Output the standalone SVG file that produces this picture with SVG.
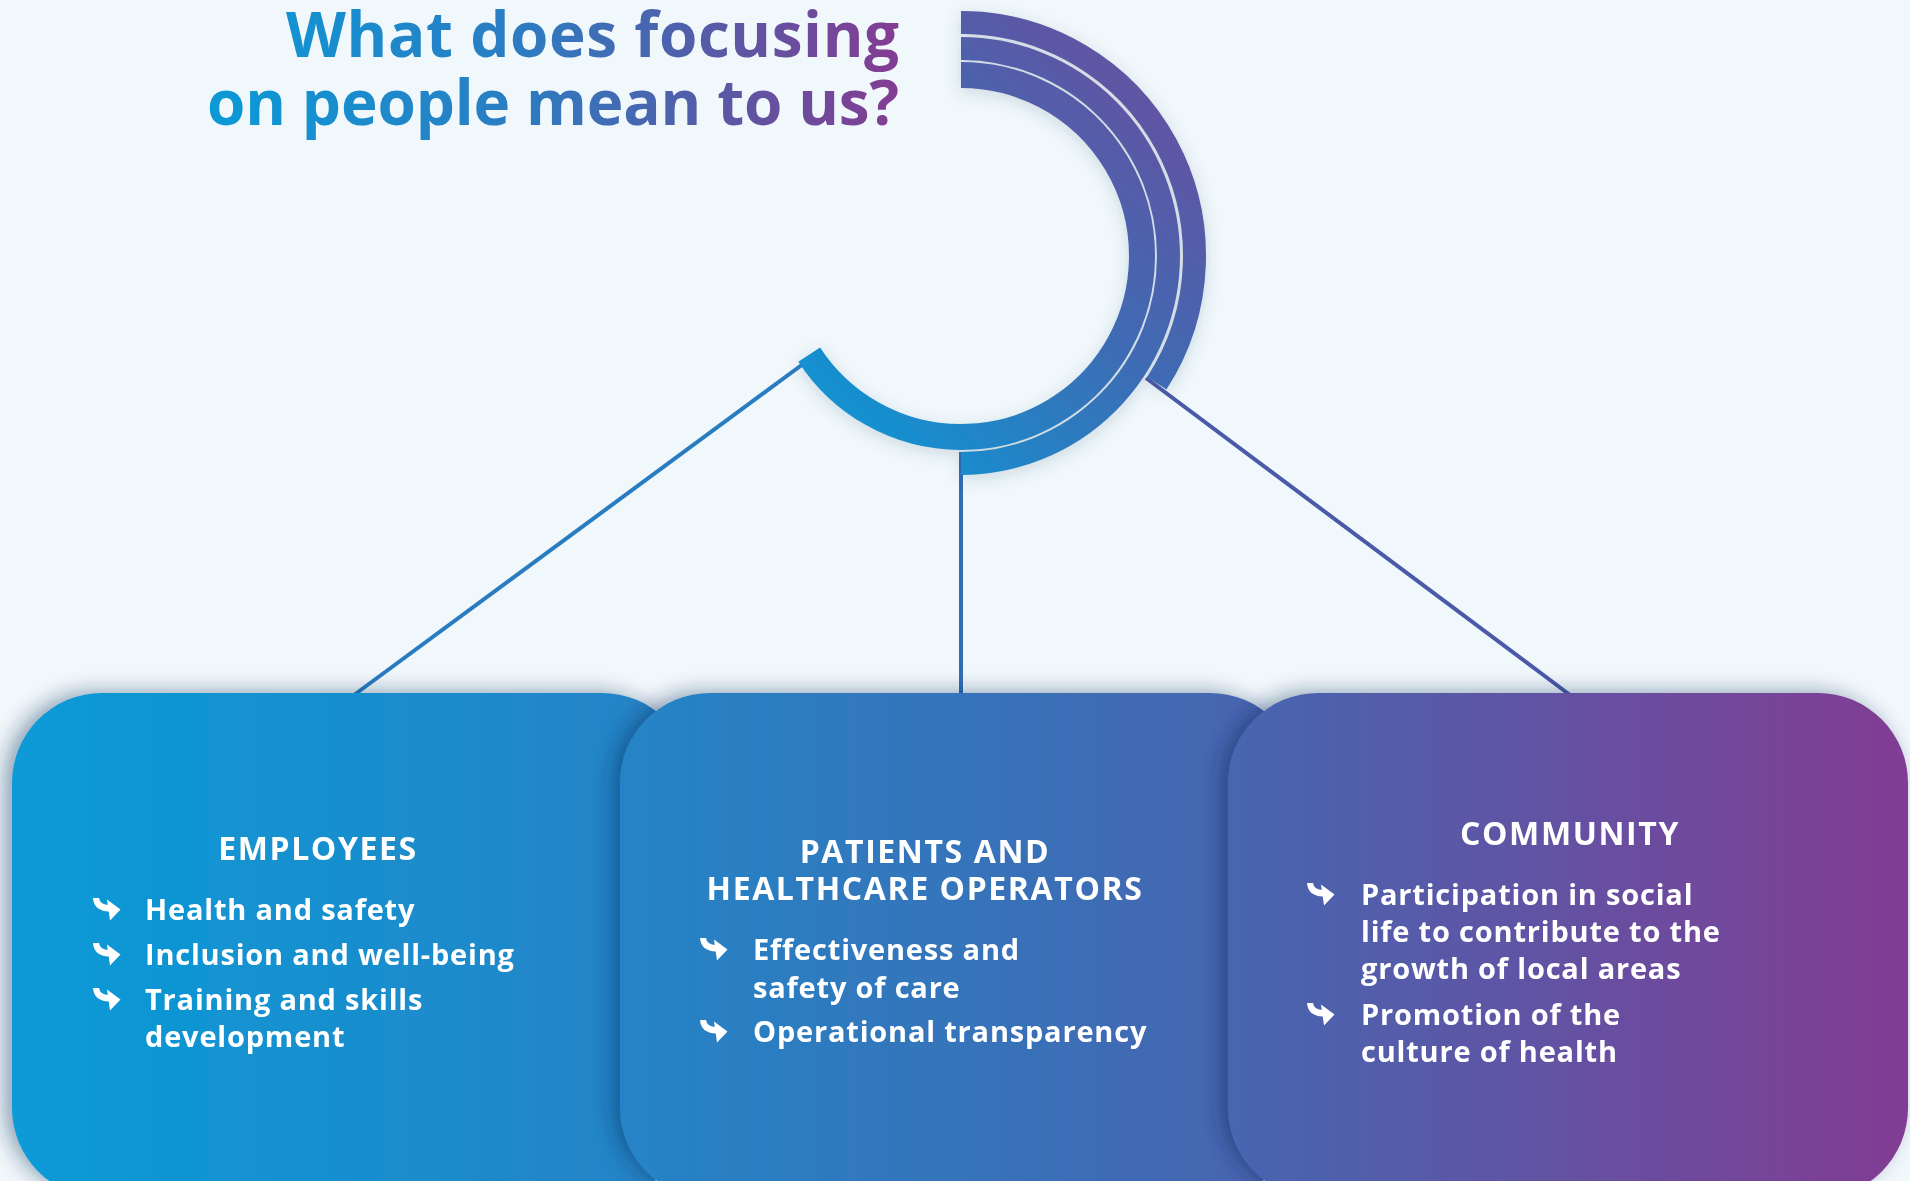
<svg xmlns="http://www.w3.org/2000/svg" xmlns:xlink="http://www.w3.org/1999/xlink" width="1910" height="1181" viewBox="0 0 1910 1181">
<defs>
<style>
.title{font-family:"Open Sans","Liberation Sans",sans-serif;font-weight:700;font-size:62px;}
.hdr{font-family:"Open Sans","Liberation Sans",sans-serif;font-weight:700;font-size:32px;fill:#ffffff;text-anchor:middle;letter-spacing:1.6px;}
.itm{font-family:"Open Sans","Liberation Sans",sans-serif;font-weight:700;font-size:29px;fill:#ffffff;letter-spacing:0.8px;}
.conn{stroke-width:4;fill:none;}
.band{fill:none;}
</style>
<linearGradient id="gTitle" gradientUnits="userSpaceOnUse" x1="200" y1="0" x2="900" y2="0">
<stop offset="0" stop-color="#0a9ad7"/>
<stop offset="0.45" stop-color="#2b7dc2"/>
<stop offset="0.75" stop-color="#5a58a5"/>
<stop offset="1" stop-color="#843c92"/>
</linearGradient>
<linearGradient id="gCard" gradientUnits="userSpaceOnUse" x1="0" y1="0" x2="1910" y2="0">
<stop offset="0" stop-color="#089bd8"/>
<stop offset="0.32" stop-color="#2485c7"/>
<stop offset="0.55" stop-color="#3a6fb7"/>
<stop offset="0.68" stop-color="#4c62ae"/>
<stop offset="1" stop-color="#823c93"/>
</linearGradient>
<linearGradient id="gArc" gradientUnits="userSpaceOnUse" x1="1180" y1="40" x2="800" y2="440">
<stop offset="0" stop-color="#6b4d9e"/>
<stop offset="0.5" stop-color="#3c6db5"/>
<stop offset="1" stop-color="#0a9ad7"/>
</linearGradient>
<filter id="cardShadow" x="-10%" y="-10%" width="120%" height="120%">
<feDropShadow dx="-8" dy="-2" stdDeviation="10" flood-color="#0b2a55" flood-opacity="0.4"/>
</filter>
<filter id="arcShadow" x="-20%" y="-20%" width="140%" height="140%">
<feDropShadow dx="0" dy="4" stdDeviation="8" flood-color="#2a4d6e" flood-opacity="0.18"/>
</filter>
<g id="arr">
<path d="M0,0 L6,0 Q7,7 16,7 L16,13.5 Q1,13 0,0 Z" fill="#ffffff"/>
<path d="M14,1.5 L27.5,11.5 L17,22.5 Z" fill="#ffffff"/>
</g>
</defs>
<rect x="0" y="0" width="1910" height="1181" fill="#f1f8fb"/>

<g id="title">
<text class="title" x="899" y="57" text-anchor="end" fill="url(#gTitle)" textLength="613" lengthAdjust="spacing">What does focusing</text>
<text class="title" x="899" y="125" text-anchor="end" fill="url(#gTitle)" textLength="692" lengthAdjust="spacing">on people mean to us?</text>
</g>

<g id="connectors">
<line class="conn" x1="354" y1="695" x2="814" y2="356" stroke="#2a7cc1"/>
<line class="conn" x1="961" y1="452" x2="961" y2="695" stroke="#2f6db5"/>
<line class="conn" x1="1146" y1="378" x2="1570" y2="695" stroke="#4a5aa8"/>
</g>

<g id="hub" filter="url(#arcShadow)">
<path class="band" d="M961,22.5 A233.5,233.5 0 0 1 1156.8,383.2" stroke="url(#gArc)" stroke-width="23"/>
<path class="band" d="M961,48.5 A207.5,207.5 0 0 1 1168.5,256 A207.5,207.5 0 0 1 961,463.5" stroke="url(#gArc)" stroke-width="23"/>
<path class="band" d="M961,75 A181,181 0 1 1 809.2,354.6" stroke="url(#gArc)" stroke-width="26"/>
</g>

<g id="card-employees" filter="url(#cardShadow)">
<rect x="12" y="693" width="680" height="505" rx="90" ry="90" fill="url(#gCard)"/>
<text class="hdr" x="318" y="860">EMPLOYEES</text>
<use xlink:href="#arr" x="93" y="898"/>
<text class="itm" x="145" y="920">Health and safety</text>
<use xlink:href="#arr" x="93" y="943"/>
<text class="itm" x="145" y="965">Inclusion and well-being</text>
<use xlink:href="#arr" x="93" y="988"/>
<text class="itm" x="145" y="1010">Training and skills</text>
<text class="itm" x="145" y="1047">development</text>
</g>

<g id="card-patients" filter="url(#cardShadow)">
<rect x="620" y="693" width="680" height="505" rx="90" ry="90" fill="url(#gCard)"/>
<text class="hdr" x="925" y="863">PATIENTS AND</text>
<text class="hdr" x="925" y="900">HEALTHCARE OPERATORS</text>
<use xlink:href="#arr" x="700" y="938"/>
<text class="itm" x="753" y="960">Effectiveness and</text>
<text class="itm" x="753" y="998">safety of care</text>
<use xlink:href="#arr" x="700" y="1020"/>
<text class="itm" x="753" y="1042">Operational transparency</text>
</g>

<g id="card-community" filter="url(#cardShadow)">
<rect x="1228" y="693" width="680" height="505" rx="90" ry="90" fill="url(#gCard)"/>
<text class="hdr" x="1570" y="845">COMMUNITY</text>
<use xlink:href="#arr" x="1307" y="883"/>
<text class="itm" x="1361" y="905">Participation in social</text>
<text class="itm" x="1361" y="942">life to contribute to the</text>
<text class="itm" x="1361" y="979">growth of local areas</text>
<use xlink:href="#arr" x="1307" y="1003"/>
<text class="itm" x="1361" y="1025">Promotion of the</text>
<text class="itm" x="1361" y="1062">culture of health</text>
</g>
</svg>
